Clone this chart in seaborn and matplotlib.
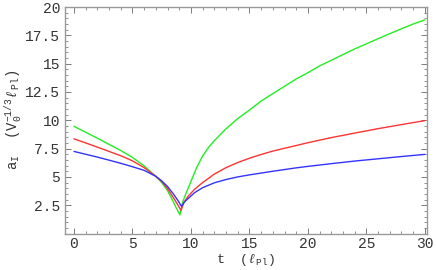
import numpy as np
import pandas as pd
import matplotlib
matplotlib.use("Agg")
import matplotlib.pyplot as plt
from matplotlib.ticker import MultipleLocator
import seaborn as sns

# ==========================
# DATA
# ==========================
t_green = [0, 1, 2, 3, 4, 5, 6, 7, 7.5, 8, 8.4, 8.7, 9.06,
           9.3, 9.6, 10.0, 10.5, 11.0, 11.5, 12.0, 13, 14, 15, 16, 17, 18,
           19, 20, 21, 22, 23, 24, 25, 26, 27, 28, 29, 30]
a_green = [9.47, 8.95, 8.42, 7.87, 7.33, 6.72, 5.97, 5.05, 4.5, 3.78, 3.0, 2.35, 1.65,
           2.8, 3.6, 4.6, 5.85, 6.85, 7.6, 8.2, 9.25, 10.15, 10.9, 11.7, 12.35, 13.0,
           13.65, 14.2, 14.8, 15.3, 15.8, 16.3, 16.75, 17.2, 17.65, 18.08, 18.5, 18.86]

t_red = [0, 1, 2, 3, 4, 5, 6, 7, 7.5, 8, 8.5, 8.9, 9.15,
         9.4, 9.77, 10.3, 11, 12, 13, 14, 15, 16, 17, 18, 19, 20,
         22, 24, 26, 28, 30]
a_red = [8.36, 8.0, 7.63, 7.25, 6.87, 6.42, 5.82, 5.05, 4.6, 3.97, 3.17, 2.5, 2.04,
         2.75, 3.3, 3.9, 4.5, 5.25, 5.82, 6.27, 6.65, 6.98, 7.28, 7.53, 7.77, 8.02,
         8.47, 8.87, 9.26, 9.62, 9.97]

t_blue = [0, 1, 2, 3, 4, 5, 6, 7, 7.5, 8, 8.5, 8.9, 9.2,
          9.45, 9.77, 10.3, 11, 12, 13, 14, 15, 16, 17, 18, 19, 20,
          22, 24, 26, 28, 30]
a_blue = [7.25, 7.0, 6.75, 6.48, 6.2, 5.9, 5.58, 5.05, 4.65, 4.15, 3.5, 2.9, 2.39,
          2.8, 3.1, 3.6, 4.05, 4.48, 4.77, 5.0, 5.18, 5.34, 5.5, 5.65, 5.8, 5.93,
          6.17, 6.4, 6.6, 6.8, 6.99]

curve_names = ["green", "red", "blue"]
curve_colors = ["#22ee22", "#ff3333", "#3333ff"]

df = pd.concat([
    pd.DataFrame({"t": t_green, "a": a_green, "curve": "green"}),
    pd.DataFrame({"t": t_red, "a": a_red, "curve": "red"}),
    pd.DataFrame({"t": t_blue, "a": a_blue, "curve": "blue"}),
])

# ==========================
# STYLE
# ==========================
sns.set_style("ticks")
plt.rcParams["font.family"] = ["Liberation Mono", "DejaVu Sans Mono"]
plt.rcParams["mathtext.fontset"] = "custom"
plt.rcParams["mathtext.rm"] = "Liberation Mono"
plt.rcParams["mathtext.it"] = "Liberation Mono:italic"

fig = plt.figure(figsize=(4.36, 2.70), dpi=100)
ax = fig.add_axes([0.149, 0.135, 0.830, 0.839])

sns.lineplot(data=df, x="t", y="a", hue="curve", hue_order=curve_names,
             palette=dict(zip(curve_names, curve_colors)),
             estimator=None, sort=False, linewidth=1.0, legend=False, ax=ax)

ax.set_xlim(-0.77, 30.17)
ax.set_ylim(0, 20)
ax.xaxis.set_major_locator(MultipleLocator(5))
ax.xaxis.set_minor_locator(MultipleLocator(1))
ax.yaxis.set_minor_locator(MultipleLocator(0.5))
ax.set_yticks([2.5, 5, 7.5, 10, 12.5, 15, 17.5, 20])
ax.set_yticklabels(["2.5", "5", "7.5", "10", "12.5", "15", "17.5", "20"])

frame_col = "#999999"
for s in ax.spines.values():
    s.set_color(frame_col)
    s.set_linewidth(1.0)
ax.tick_params(which="both", direction="in", top=True, right=True,
               color="#666666", labelsize=10.5, labelcolor="#333333")
ax.tick_params(which="major", length=4, width=0.6)
ax.tick_params(which="minor", length=2, width=0.5)
ax.tick_params(axis="x", pad=2.5)

ax.set_xlabel(r"t  ($\ell_{\mathrm{Pl}}$)", fontsize=9.5, color="#333333", labelpad=0.5)
ax.set_ylabel(r"$\mathrm{a_I}$  ($\mathrm{V_0^{-1/3}}\ell_{\mathrm{Pl}}$)",
              fontsize=10, color="#333333", labelpad=1)

fig.savefig("out.png", dpi=100)
plt.close(fig)
